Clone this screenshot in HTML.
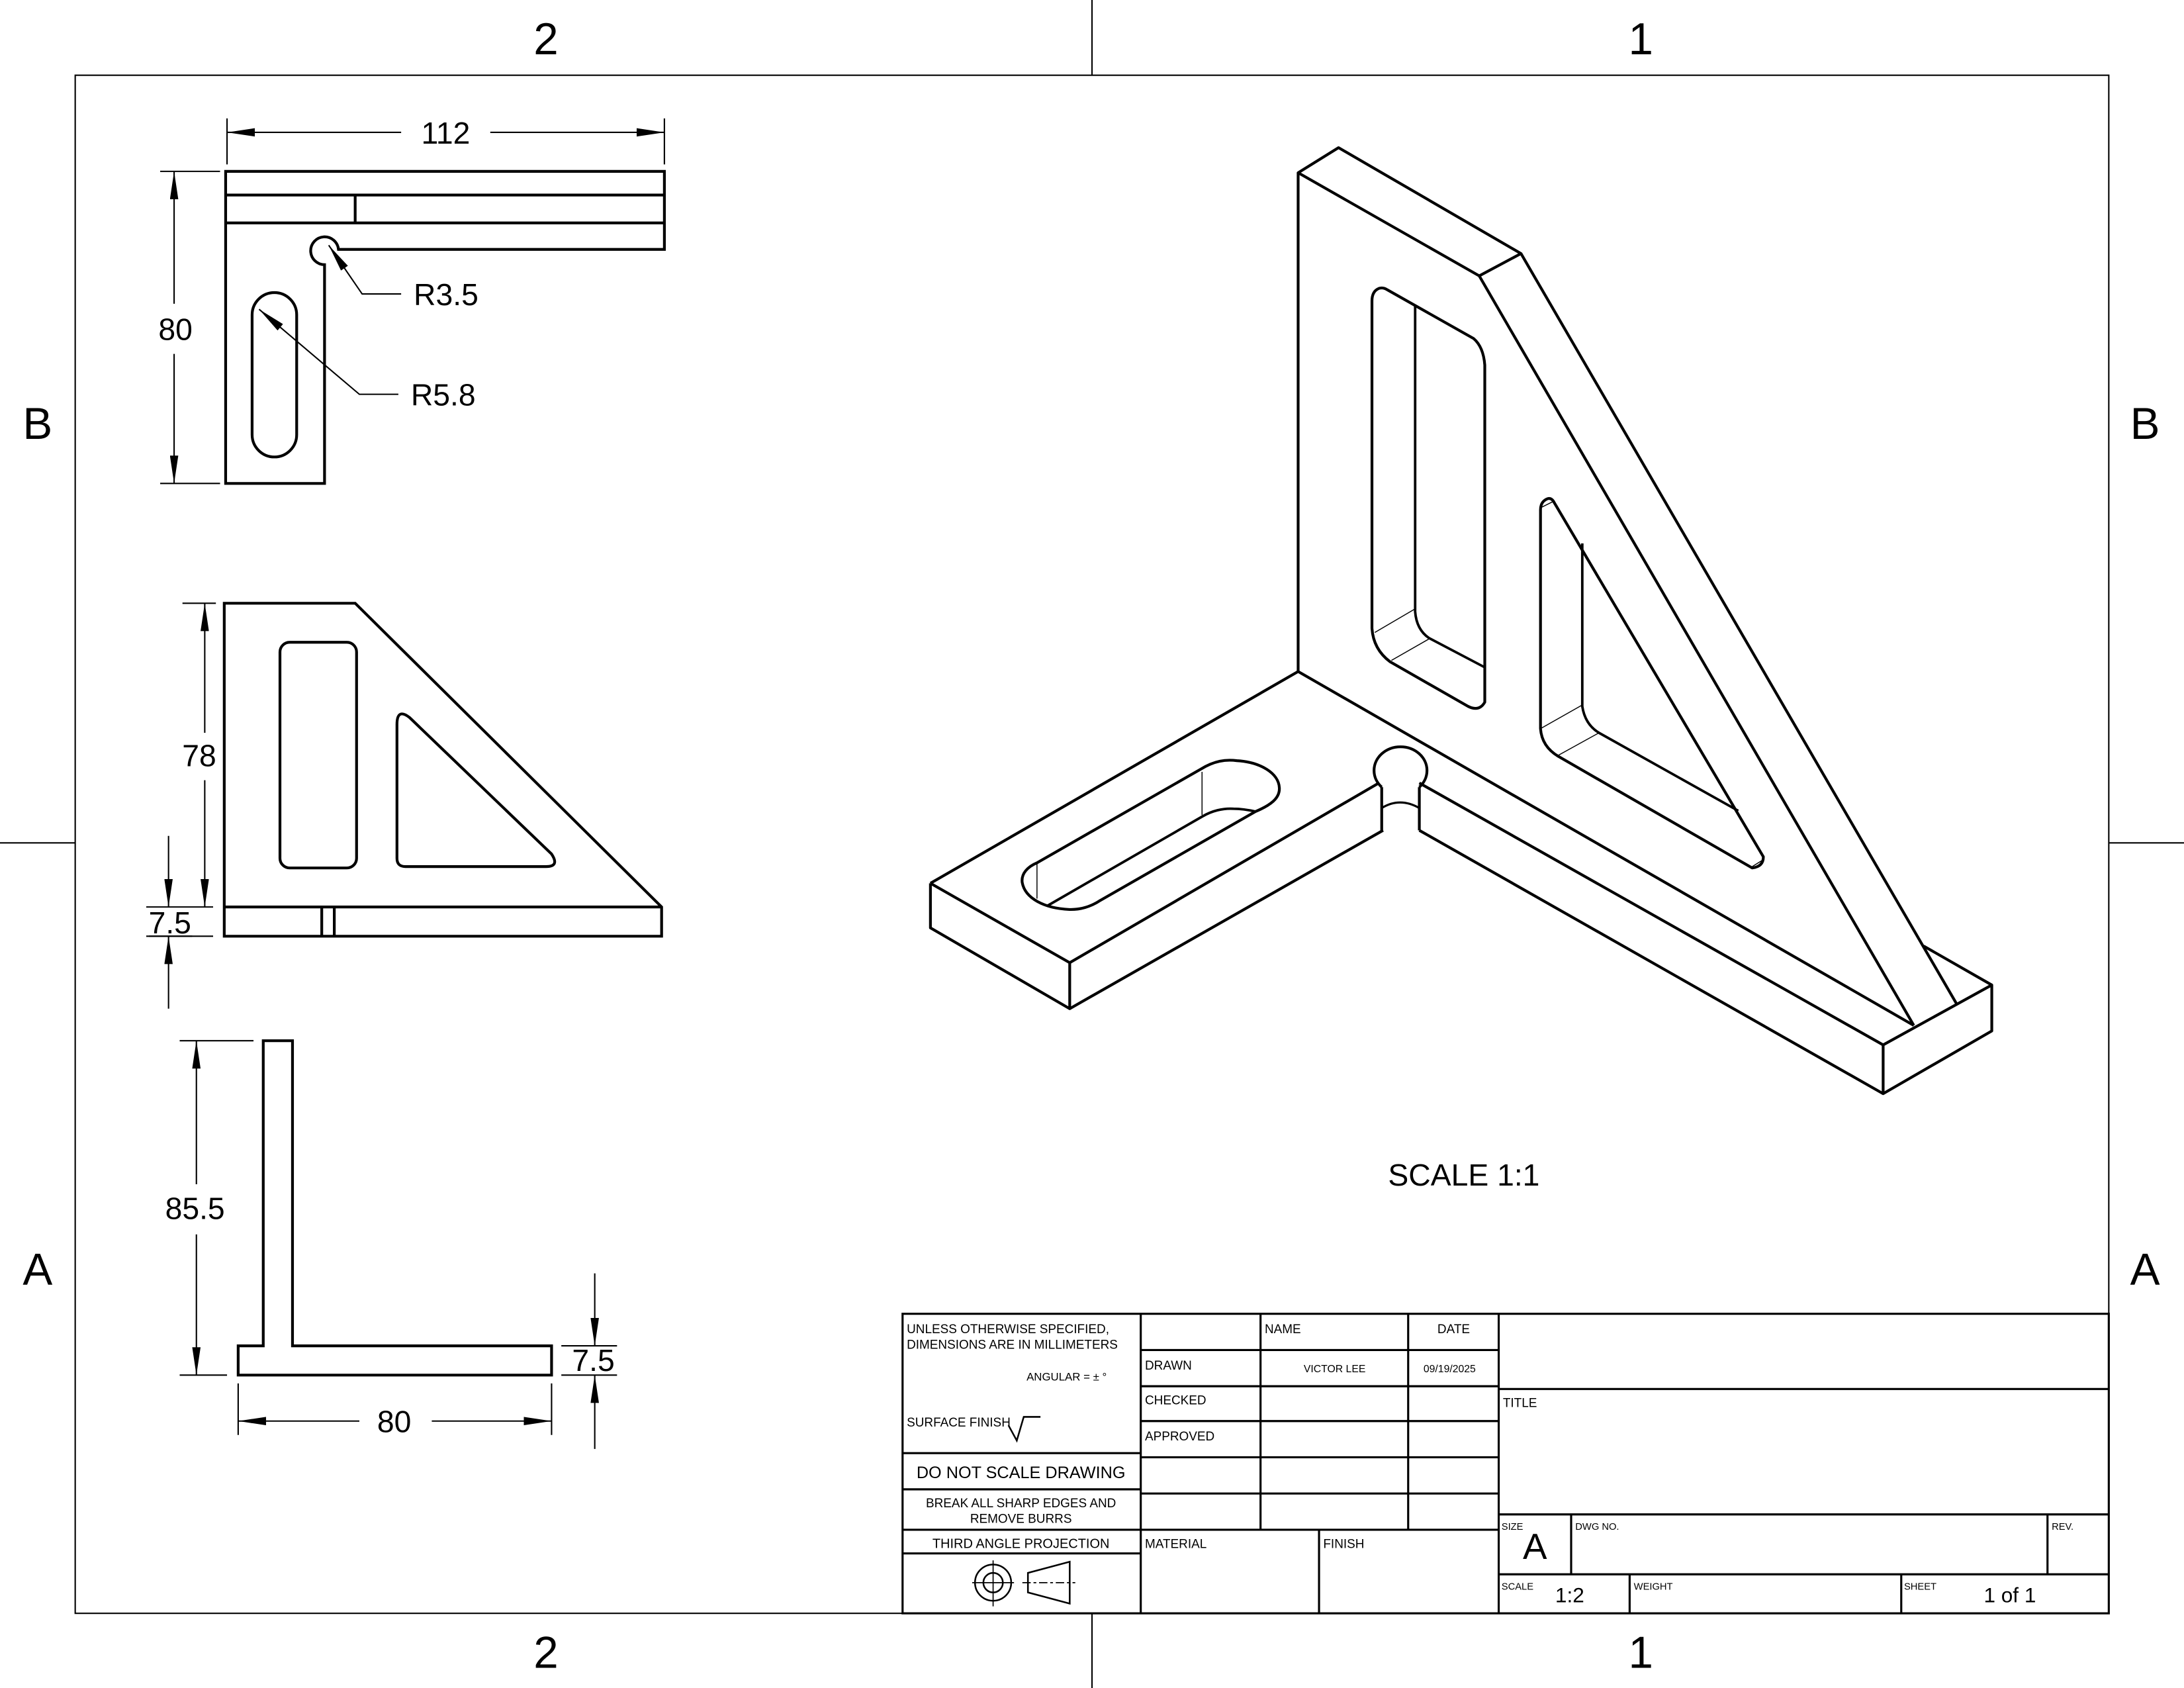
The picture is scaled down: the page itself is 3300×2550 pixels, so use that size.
<!DOCTYPE html>
<html><head><meta charset="utf-8"><style>
html,body{margin:0;padding:0;background:#fff}
svg{display:block}
text{font-family:"Liberation Sans","DejaVu Sans",sans-serif;fill:#000}
</style></head><body>
<svg width="3300" height="2550" viewBox="0 0 1568 1211.6" preserveAspectRatio="none" xmlns="http://www.w3.org/2000/svg">
<defs>
<marker id="ar" viewBox="0 0 20 6" refX="20" refY="3" markerWidth="20" markerHeight="6" markerUnits="userSpaceOnUse" orient="auto-start-reverse">
<path d="M0,0 L20,3 L0,6 Z" fill="#000"/></marker>
</defs>
<rect x="0" y="0" width="1568" height="1212" fill="#fff"/>
<g stroke="#000" fill="none" stroke-width="1">
<rect x="54" y="54" width="1460" height="1104"/>
<line x1="784" y1="0" x2="784" y2="54"/><line x1="784" y1="1158" x2="784" y2="1212"/>
<line x1="0" y1="605" x2="54" y2="605"/><line x1="1514" y1="605" x2="1568" y2="605"/>
</g>
<g font-size="32" text-anchor="middle">
<text x="392" y="39">2</text><text x="1178" y="39">1</text>
<text x="392" y="1197">2</text><text x="1178" y="1197">1</text>
<text x="27" y="315">B</text><text x="1540" y="315">B</text>
<text x="27" y="922">A</text><text x="1540" y="922">A</text>
</g>

<!-- TOP VIEW -->
<g stroke="#000" fill="none" stroke-width="2">
<path d="M162,123 H477 V179 H243 A10,10 0 1 0 233,190 V347 H162 Z"/>
<line x1="162" y1="140" x2="477" y2="140"/>
<line x1="162" y1="160" x2="477" y2="160"/>
<line x1="255" y1="140" x2="255" y2="160"/>
<rect x="181" y="210" width="32" height="118" rx="16" ry="16"/>
</g>
<g stroke="#000" fill="none" stroke-width="1">
<line x1="163" y1="85" x2="163" y2="118"/><line x1="477" y1="85" x2="477" y2="118"/>
<line x1="288" y1="95" x2="163" y2="95" marker-end="url(#ar)"/>
<line x1="352" y1="95" x2="477" y2="95" marker-end="url(#ar)"/>
<line x1="115" y1="123" x2="158" y2="123"/><line x1="115" y1="347" x2="158" y2="347"/>
<line x1="125" y1="218" x2="125" y2="123" marker-end="url(#ar)"/>
<line x1="125" y1="254" x2="125" y2="347" marker-end="url(#ar)"/>
<polyline points="288,211 260,211 236,176" marker-end="url(#ar)"/>
<polyline points="286,283 258,283 186,222" marker-end="url(#ar)"/>
</g>
<g font-size="22" text-anchor="middle">
<text x="320" y="103">112</text>
<text x="126" y="244">80</text>
</g>
<g font-size="22"><text x="297" y="219">R3.5</text><text x="295" y="291">R5.8</text></g>

<!-- FRONT VIEW -->
<g stroke="#000" fill="none" stroke-width="2">
<path d="M161,433 H255 L475,651 V672 H161 Z"/>
<line x1="161" y1="651" x2="475" y2="651"/>
<line x1="231" y1="651" x2="231" y2="672"/><line x1="240" y1="651" x2="240" y2="672"/>
<rect x="201" y="461" width="55" height="162" rx="7" ry="7"/>
<path d="M285,520 Q285,508 294,515 L396,613 Q402,622 392,622 H291 Q285,622 285,616 Z"/>
</g>
<g stroke="#000" fill="none" stroke-width="1">
<line x1="131" y1="433" x2="155" y2="433"/>
<line x1="105" y1="651" x2="153" y2="651"/><line x1="105" y1="672" x2="153" y2="672"/>
<line x1="147" y1="526" x2="147" y2="433" marker-end="url(#ar)"/>
<line x1="147" y1="560" x2="147" y2="651" marker-end="url(#ar)"/>
<line x1="121" y1="600" x2="121" y2="651" marker-end="url(#ar)"/>
<line x1="121" y1="724" x2="121" y2="672" marker-end="url(#ar)"/>
<line x1="107" y1="672" x2="138" y2="672"/>
</g>
<g font-size="22" text-anchor="middle">
<text x="143" y="550">78</text>
<text x="122" y="670">7.5</text>
</g>

<!-- SIDE VIEW -->
<g stroke="#000" fill="none" stroke-width="2">
<path d="M189,747 H210 V966 H396 V987 H171 V966 H189 Z"/>
</g>
<g stroke="#000" fill="none" stroke-width="1">
<line x1="129" y1="747" x2="182" y2="747"/><line x1="129" y1="987" x2="163" y2="987"/>
<line x1="141" y1="850" x2="141" y2="747" marker-end="url(#ar)"/>
<line x1="141" y1="886" x2="141" y2="987" marker-end="url(#ar)"/>
<line x1="171" y1="993" x2="171" y2="1030"/><line x1="396" y1="993" x2="396" y2="1030"/>
<line x1="258" y1="1020" x2="171" y2="1020" marker-end="url(#ar)"/>
<line x1="310" y1="1020" x2="396" y2="1020" marker-end="url(#ar)"/>
<line x1="403" y1="966" x2="443" y2="966"/><line x1="403" y1="987" x2="443" y2="987"/>
<line x1="427" y1="914" x2="427" y2="966" marker-end="url(#ar)"/>
<line x1="427" y1="1040" x2="427" y2="987" marker-end="url(#ar)"/>
</g>
<g font-size="22" text-anchor="middle">
<text x="140" y="875">85.5</text>
<text x="283" y="1028">80</text>
<text x="426" y="984">7.5</text>
</g>

<!-- ISO VIEW -->
<g stroke="#000" fill="none" stroke-width="2" stroke-linejoin="round">
<polygon points="932,124 961,106 1092,182 1062,198"/>
<line x1="932" y1="124" x2="932" y2="482"/>
<line x1="1062" y1="198" x2="1374" y2="736"/>
<line x1="1092" y1="182" x2="1405" y2="721"/>
<line x1="932" y1="482" x2="1374" y2="736"/>
<line x1="932" y1="482" x2="668" y2="634"/>
<polyline points="668,634 668,666 768,724 768,691 668,634"/>
<line x1="768" y1="691" x2="990" y2="562"/>
<line x1="768" y1="724" x2="993" y2="596"/>
<line x1="992" y1="565" x2="992" y2="596"/>
<line x1="1019" y1="565" x2="1019" y2="596"/>
<path d="M992,565 A19,17 0 1 1 1019,565"/>
<path d="M992,580 Q1005,572 1019,580" stroke-width="1.5"/>
<line x1="1019" y1="562" x2="1352" y2="750"/>
<line x1="1019" y1="596" x2="1352" y2="785"/>
<polyline points="1352,750 1352,785 1430,740 1430,707 1352,750"/>
<line x1="1430" y1="707" x2="1381" y2="679"/>
<!-- slot -->
<path d="M744.5,619.3 L862.2,552 C872,546 880,545 888,546 C905,547 918,555 918.5,565.4 C919,573 912,578 901.4,582.5 L790.1,646.2 C783,651 775,653 767.8,652.8 C750,652 736,645 733.9,633.5 C733,627 738,622 744.5,619.3 Z"/>
<path d="M751.9,650.2 L863.3,586 C870,582 878,580 885.6,580.5 C892,580.5 897,581.5 901.4,582.5" stroke-width="1.8"/>
<!-- rect window -->
<path d="M990,207 Q985,209 985,216 V451 Q986,466 998,475 L1054,507 Q1062,511 1066,504 V262 Q1065,249 1058,243 L996,208 Q993,206 990,207 Z"/>
<path d="M1016,220 V439 Q1017,452 1026,458 L1066,479" stroke-width="1.8"/>
<!-- triangle window -->
<path d="M1111,358 Q1106,360 1106,366 V523 Q1107,536 1119,543 L1258,623 Q1266,622 1266,615 L1116,361 Q1114,357 1111,358 Z"/>
<path d="M1136,390 V507 Q1138,520 1148,526 L1248,582" stroke-width="1.8"/>
</g>
<g stroke="#000" stroke-width="0.7" fill="none">
<line x1="987" y1="454" x2="1016" y2="437"/><line x1="999" y1="474" x2="1027" y2="458"/>
<line x1="1106" y1="523" x2="1136" y2="506"/><line x1="1119" y1="542" x2="1148" y2="526"/>
<line x1="863" y1="554" x2="863" y2="585"/><line x1="744.5" y1="620" x2="744.5" y2="645"/>
<line x1="1107" y1="364" x2="1115" y2="360"/><line x1="1258" y1="622" x2="1266" y2="617"/>
</g>
<text x="1051" y="851" font-size="22" text-anchor="middle">SCALE 1:1</text>

<!-- TITLE BLOCK -->
<g stroke="#000" fill="none" stroke-width="1.5">
<rect x="648" y="943" width="866" height="215"/>
<line x1="819" y1="943" x2="819" y2="1158"/>
<line x1="1076" y1="943" x2="1076" y2="1158"/>
<line x1="905" y1="943" x2="905" y2="1098"/>
<line x1="1011" y1="943" x2="1011" y2="1098"/>
<line x1="819" y1="969" x2="1076" y2="969"/>
<line x1="819" y1="995" x2="1076" y2="995"/>
<line x1="819" y1="1020" x2="1076" y2="1020"/>
<line x1="819" y1="1046" x2="1076" y2="1046"/>
<line x1="819" y1="1072" x2="1076" y2="1072"/>
<line x1="648" y1="1098" x2="1076" y2="1098"/>
<line x1="947" y1="1098" x2="947" y2="1158"/>
<line x1="648" y1="1043" x2="819" y2="1043"/>
<line x1="648" y1="1069" x2="819" y2="1069"/>
<line x1="648" y1="1115" x2="819" y2="1115"/>
<line x1="1076" y1="997" x2="1514" y2="997"/>
<line x1="1076" y1="1087" x2="1514" y2="1087"/>
<line x1="1076" y1="1130" x2="1514" y2="1130"/>
<line x1="1128" y1="1087" x2="1128" y2="1130"/>
<line x1="1470" y1="1087" x2="1470" y2="1130"/>
<line x1="1170" y1="1130" x2="1170" y2="1158"/>
<line x1="1365" y1="1130" x2="1365" y2="1158"/>
</g>
<g stroke="#000" fill="none" stroke-width="1.2">
<polyline points="724,1023 730,1034 735,1017 747,1017"/>
<circle cx="713" cy="1136" r="13"/><circle cx="713" cy="1136" r="7"/>
<line x1="698" y1="1136" x2="728" y2="1136" stroke-width="0.8"/>
<line x1="713" y1="1120" x2="713" y2="1153" stroke-width="0.8"/>
<polygon points="738,1129 768,1121 768,1151 738,1143"/>
<line x1="734" y1="1136" x2="772" y2="1136" stroke-width="0.8" stroke-dasharray="6,2,2,2"/>
</g>
<g font-size="9">
<text x="651" y="957">UNLESS OTHERWISE SPECIFIED,</text>
<text x="651" y="968">DIMENSIONS ARE IN MILLIMETERS</text>
<text x="737" y="991" font-size="8">ANGULAR = ± °</text>
<text x="651" y="1024">SURFACE FINISH</text>
<text x="822" y="983">DRAWN</text>
<text x="822" y="1008">CHECKED</text>
<text x="822" y="1034">APPROVED</text>
<text x="908" y="957">NAME</text>
<text x="1032" y="957">DATE</text>
<text x="936" y="985" font-size="7.5">VICTOR LEE</text>
<text x="1022" y="985" font-size="7.5">09/19/2025</text>
<text x="822" y="1111">MATERIAL</text>
<text x="950" y="1111">FINISH</text>
<text x="1079" y="1010">TITLE</text>
<text x="1078" y="1098" font-size="7">SIZE</text>
<text x="1131" y="1098" font-size="7">DWG NO.</text>
<text x="1473" y="1098" font-size="7">REV.</text>
<text x="1078" y="1141" font-size="7">SCALE</text>
<text x="1173" y="1141" font-size="7">WEIGHT</text>
<text x="1367" y="1141" font-size="7">SHEET</text>
</g>
<g text-anchor="middle">
<text x="733" y="1061" font-size="12">DO NOT SCALE DRAWING</text>
<text x="733" y="1082" font-size="9">BREAK ALL SHARP EDGES AND</text>
<text x="733" y="1093" font-size="9">REMOVE BURRS</text>
<text x="733" y="1111" font-size="9.5">THIRD ANGLE PROJECTION</text>
<text x="1102" y="1119" font-size="26">A</text>
<text x="1127" y="1150" font-size="15">1:2</text>
<text x="1443" y="1150" font-size="15">1 of 1</text>
</g>
</svg>
</body></html>
